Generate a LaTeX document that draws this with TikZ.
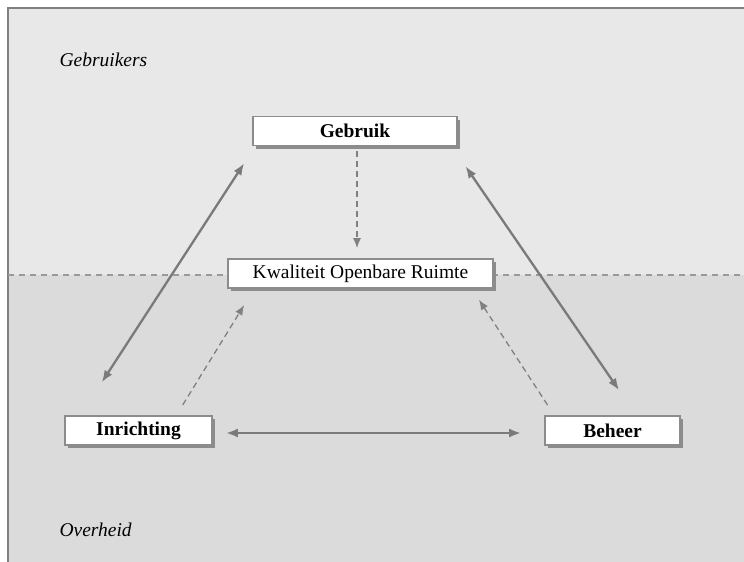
\documentclass[tikz,border=0pt]{standalone}
\usepackage{fontspec}
\setmainfont{Liberation Serif}
\usetikzlibrary{arrows.meta,shadows}

\begin{document}
\begin{tikzpicture}[
    x=1pt, y=-1pt,
    box node/.style={rectangle, draw=black!45, line width=1.8pt, fill=white, inner sep=0pt,
        minimum height=29pt, font=\fontsize{19.5}{23}\selectfont,
        drop shadow={shadow xshift=3pt, shadow yshift=-3pt, fill=black!45, opacity=1}},
    zone label/.style={anchor=west, font=\fontsize{19.5}{23}\selectfont\itshape},
    solid link/.style={draw=black!52, line width=2.3pt, {Latex[length=12pt,width=9pt]}-{Latex[length=12pt,width=9pt]}},
    dash link/.style={draw=black!50, line width=1.3pt, dash pattern=on 6pt off 4pt, -{Latex[length=10pt,width=8pt]}}
]
\useasboundingbox (0,0) rectangle (744,562);

% achtergrond: gebruikers boven, overheid onder
\fill[black!9]  (8,8)   rectangle (744,275);
\fill[black!14] (8,275) rectangle (744,562);
\draw[black!50, line width=1.8pt] (8,562) -- (8,8) -- (744,8);
\draw[black!40, line width=1.1pt, dash pattern=on 6pt off 5pt] (8,275) -- (744,275);

\node[zone label] (lGebruikers) at (56, 60)  {Gebruikers};
\node[zone label] (lOverheid)   at (56, 530) {Overheid};

% blokken
\node[box node, minimum width=204pt] (gebruik)    at (355,   131) {\bfseries Gebruik};
\node[box node, minimum width=265pt] (kwaliteit)  at (360.5, 273.5) {Kwaliteit Openbare Ruimte};
\node[box node, minimum width=147pt] (inrichting) at (138.5, 430.5) {\bfseries Inrichting};
\node[box node, minimum width=135pt] (beheer)     at (612.5, 430.5) {\bfseries Beheer};

% wederzijdse relaties
\draw[solid link, shorten <=39pt, shorten >=20pt] ([xshift=-58pt]inrichting.north) -- ([xshift=3pt]gebruik.south west);
\draw[solid link, shorten <=24pt, shorten >=30pt] ([xshift=-6pt]gebruik.south east) -- ([xshift=92pt]beheer.north west);
\draw[solid link, shorten <=13pt, shorten >=23pt] ([yshift=-2.5pt]inrichting.east) -- ([yshift=-2.5pt]beheer.west);

% invloed op de kwaliteit
\draw[dash link, shorten <=5pt, shorten >=10pt] ([xshift=2pt]gebruik.south) -- ([xshift=2pt]gebruik.south |- kwaliteit.north);
\draw[dash link, shorten <=12pt, shorten >=19pt] ([xshift=38pt]inrichting.north) -- ([xshift=27pt]kwaliteit.south west);
\draw[dash link, shorten <=12pt, shorten >=13pt] ([xshift=10pt]beheer.north west) -- ([xshift=-22pt]kwaliteit.south east);

\end{tikzpicture}
\end{document}
